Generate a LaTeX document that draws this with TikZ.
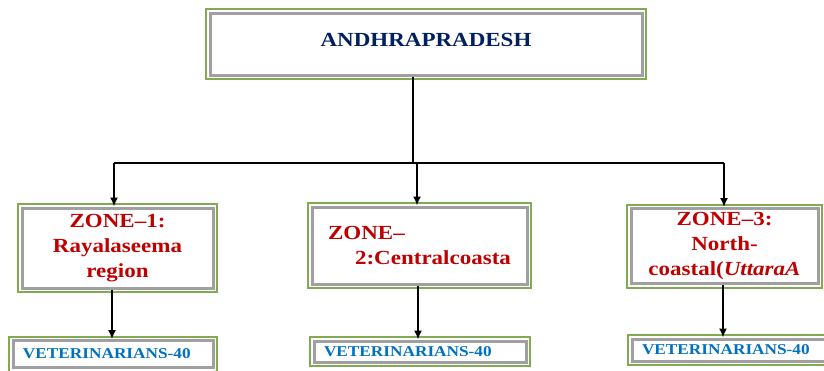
\documentclass[tikz,border=0pt]{standalone}
\usepackage{fontspec}
\setmainfont[FakeStretch=1.15]{Liberation Serif}
\usepackage{tikz}
\usetikzlibrary{arrows.meta}
\definecolor{framegreen}{RGB}{130,170,80}
\definecolor{bandgray}{RGB}{160,160,160}
\definecolor{navytext}{RGB}{0,32,96}
\definecolor{zonered}{RGB}{192,0,0}
\definecolor{vetblue}{RGB}{0,112,192}

\begin{document}
\begin{tikzpicture}[
  x=1pt, y=-1pt,
  framebox/.style={fill=white, draw=bandgray, line width=3,
    preaction={draw=framegreen, line width=10},
    preaction={draw=white, line width=6}},
  statebox/.style={framebox, minimum width=432, minimum height=62, text depth=8,
    font=\fontsize{20}{24}\selectfont\bfseries, text=navytext},
  zonebox/.style={framebox, align=center, inner sep=0,
    font=\fontsize{20}{25}\selectfont\bfseries, text=zonered},
  vetbox/.style={framebox, align=left, inner xsep=10, inner ysep=0,
    font=\fontsize{15}{17}\selectfont\bfseries, text=vetblue},
  link/.style={line width=1.6},
  arrowlink/.style={link, -{Latex[length=9,width=8]}}
]
\useasboundingbox (0,0) rectangle (824,370);

\node[statebox] (ap) at (426,44) {ANDHRAPRADESH};

\node[zonebox, minimum width=191, minimum height=80] (z1) at (117.5,248)
  {ZONE--1:\\Rayalaseema\\region};
\node[zonebox, minimum width=215, minimum height=77, align=left] (z2) at (419.5,245.5)
  {ZONE--\\\hspace*{27pt}2:Centralcoasta};
\node[zonebox, minimum width=187, minimum height=75] (z3) at (724.5,246)
  {ZONE--3:\\North-\\coastal(\textit{UttaraA}};

\node[vetbox, text width=180, minimum height=27] (v1) at (113,354) {VETERINARIANS-40};
\node[vetbox, text width=192, minimum height=21] (v2) at (420,351.5) {VETERINARIANS-40};
\node[vetbox, text width=174, minimum height=22] (v3) at (729,350) {VETERINARIANS-40};

% branching lines
\coordinate (busL) at (114,163);
\coordinate (busR) at (724,163);
\draw[link] (ap.south -| 413,0) -- (busL -| 413,0);
\draw[link] (busL) -- (busR);
\draw[arrowlink] (busL) -- (busL |- z1.north);
\draw[arrowlink] (busL -| 417,0) -- (z2.north -| 417,0);
\draw[arrowlink] (busR) -- (busR |- z3.north);

\draw[arrowlink] (z1.south -| 112,0) -- (v1.north -| 112,0);
\draw[arrowlink] (z2.south -| 418,0) -- (v2.north -| 418,0);
\draw[arrowlink] (z3.south -| 723,0) -- (v3.north -| 723,0);

\end{tikzpicture}
\end{document}
